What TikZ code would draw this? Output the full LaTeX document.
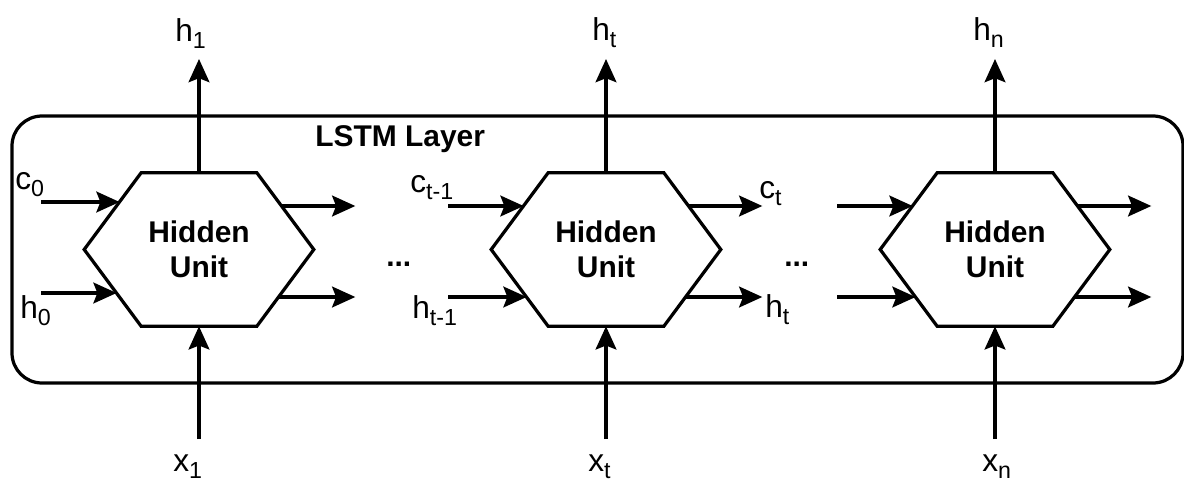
\documentclass[tikz,border=0pt]{standalone}
\usepackage{fontspec}
\setmainfont{Liberation Sans}
\usepackage{tikz}
\usetikzlibrary{arrows.meta,positioning,calc}
\newcommand{\lowix}[1]{\raisebox{-5pt}{\fontsize{16.5}{16.5}\selectfont #1}}
\tikzset{
  unit/.style={rectangle, inner sep=0pt, minimum width=5.725cm, minimum height=3.825cm,
               align=center, font=\fontsize{21.3}{25}\selectfont\bfseries},
  hexline/.style={line width=2.3pt, line join=miter},
  layerbox/.style={line width=2.3pt, rounded corners=0.75cm},
  arr/.style={-{Stealth[length=0.58cm, width=0.52cm, inset=0.1cm]}, line width=2.3pt},
  lbl/.style={inner sep=0pt, anchor=base west, font=\fontsize{22.5}{26}\selectfont},
  boldlbl/.style={lbl, font=\fontsize{21.3}{25}\selectfont\bfseries},
}

\begin{document}
\begin{tikzpicture}[x=0.025cm, y=-0.025cm]
        \useasboundingbox (0,0) rectangle (1184,481);
        \draw[layerbox] (12,116) rectangle (1183,383);
        \node[boldlbl] (layer) at (315,146) {LSTM Layer};
        \foreach \n/\cx/\cy/\hy in {1/199/-47.5/43.5, 2/606/-43.5/47.5, 3/995/-43.5/47.5} {
          \node[unit] (u\n) at (\cx,249.5) {Hidden\\Unit};
          \draw[hexline] (u\n.west) -- ($(u\n.north west)+(57,0)$) -- ($(u\n.north east)+(-57,0)$)
            -- (u\n.east) -- ($(u\n.south east)+(-57,0)$) -- ($(u\n.south west)+(57,0)$) -- cycle;
          \coordinate (out\n) at (\cx,59);
          \coordinate (in\n) at (\cx,439);
          \coordinate (cin\n) at ($(u\n.west)+(-43,\cy)$);
          \coordinate (hin\n) at ($(u\n.west)+(-43,\hy)$);
          \coordinate (cout\n) at ($(u\n.east)+(41.5,-43.5)$);
          \coordinate (hout\n) at ($(u\n.east)+(41.5,47.5)$);
          \draw[arr] (u\n.north) -- (out\n);
          \draw[arr] (in\n) -- (u\n.south);
          \draw[arr] (cin\n) -- ($(u\n.west)+({57*abs(\cy)/76.5},\cy)$);
          \draw[arr] (hin\n) -- ($(u\n.west)+({57*abs(\hy)/76.5},\hy)$);
          \draw[arr] ($(u\n.east)+(-32.4,-43.5)$) -- (cout\n);
          \draw[arr] ($(u\n.east)+(-35.4,47.5)$) -- (hout\n);
        }
        \node[lbl] (h1) at (175,41) {h\lowix{1}};
        \node[lbl] (ht) at (592,40) {h\lowix{t}};
        \node[lbl] (hn) at (973,40) {h\lowix{n}};
        \node[lbl] (x1) at (173,471) {x\lowix{1}};
        \node[lbl] (xt) at (588,471) {x\lowix{t}};
        \node[lbl] (xn) at (982,471) {x\lowix{n}};
        \node[lbl] (c0) at (15,189) {c\lowix{0}};
        \node[lbl] (h0) at (20,318) {h\lowix{0}};
        \node[lbl] (ctm) at (410,192) {c\lowix{t-1}};
        \node[lbl] (htm) at (412,318) {h\lowix{t-1}};
        \node[lbl] (ct) at (759,198) {c\lowix{t}};
        \node[lbl] (htr) at (765,317) {h\lowix{t}};
        \node[boldlbl] (dots1) at (386,266) {...};
        \node[boldlbl] (dots2) at (784,266) {...};
      \end{tikzpicture}
\end{document}
